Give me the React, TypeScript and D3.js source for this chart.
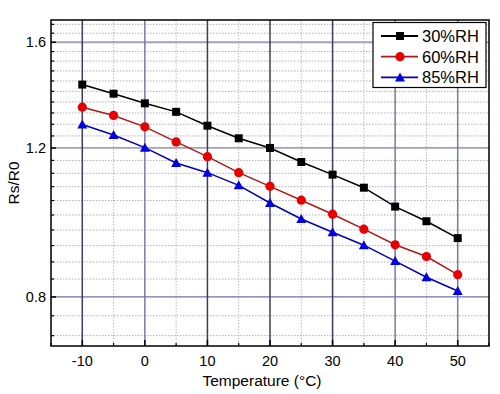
import React from "react";
import * as d3 from "d3";

const temperatures = [-10, -5, 0, 5, 10, 15, 20, 25, 30, 35, 40, 45, 50];
const rh30 = [1.426, 1.391, 1.355, 1.324, 1.275, 1.232, 1.2, 1.155, 1.116, 1.077, 1.023, 0.983, 0.939];
const rh60 = [1.341, 1.311, 1.271, 1.22, 1.172, 1.122, 1.081, 1.041, 1.002, 0.962, 0.922, 0.893, 0.85];
const rh85 = [1.279, 1.243, 1.201, 1.152, 1.122, 1.084, 1.033, 0.989, 0.954, 0.921, 0.882, 0.844, 0.813];
const seriesNames = ["30%RH", "60%RH", "85%RH"];
const xMajorTicks = [-10, 0, 10, 20, 30, 40, 50];
const xMinorTicks = [-15, -5, 5, 15, 25, 35, 45, 55];
const yMajorTicks = [0.8, 1.2, 1.6];
const yMinorTicks = [0.72, 0.76, 0.84, 0.88, 0.92, 0.96, 1.0, 1.04, 1.08, 1.12, 1.16, 1.24, 1.28, 1.32, 1.36, 1.4, 1.44, 1.48, 1.52, 1.56, 1.64, 1.68];

const W = 500, H = 394;
const L = 51, R = 489, T = 20, B = 346;
const FONT = "Arial, 'Liberation Sans', Helvetica, sans-serif";

export default function App() {
  const x = d3.scaleLinear().domain([-15, 55]).range([L, R]);
  const y = d3.scaleLog().domain([0.7, 1.7]).range([B, T]);
  const line = d3.line<[number, number]>().x(d => x(d[0])).y(d => y(d[1]));
  const series = [
    { name: seriesNames[0], vals: rh30, line: "#000000", fill: "#000000", marker: "square" },
    { name: seriesNames[1], vals: rh60, line: "#b01818", fill: "#e80000", marker: "circle" },
    { name: seriesNames[2], vals: rh85, line: "#0000b8", fill: "#0000e0", marker: "triangle" },
  ];
  const marker = (kind: string, cx: number, cy: number, fill: string, key?: any) => {
    if (kind === "square") return <rect key={key} x={cx - 4} y={cy - 4} width={8} height={8} fill={fill} />;
    if (kind === "circle") return <circle key={key} cx={cx} cy={cy} r={4.6} fill={fill} />;
    const s = 5;
    return <path key={key} d={`M${cx},${cy - s}L${cx + s},${cy + s * 0.8}L${cx - s},${cy + s * 0.8}Z`} fill={fill} />;
  };
  return (
    <svg width={W} height={H} style={{ position: "absolute", left: 0, top: 0, background: "#fff" }} fontFamily={FONT}>
      <rect x={0} y={0} width={W} height={H} fill="#fff" />
      {/* minor grid */}
      {yMinorTicks.map(v => (
        <line key={"ym" + v} x1={L} x2={R} y1={y(v)} y2={y(v)} stroke="#b0b0b8" strokeWidth={1} strokeDasharray="1.5,1.5" />
      ))}
      {xMinorTicks.map(v => (
        <line key={"xm" + v} x1={x(v)} x2={x(v)} y1={T} y2={B} stroke="#b8b8c8" strokeWidth={1} strokeDasharray="1.5,1.5" />
      ))}
      {/* major grid */}
      {yMajorTicks.map(v => (
        <line key={"yM" + v} x1={L} x2={R} y1={y(v)} y2={y(v)} stroke={v === 0.8 ? "#7070a8" : "#a0a0c0"} strokeWidth={v === 0.8 ? 1.2 : 1.8} />
      ))}
      {xMajorTicks.map(v => (
        <line key={"xM" + v} x1={x(v)} x2={x(v)} y1={T} y2={B} stroke={v === 0 || v >= 40 ? "#7878a8" : "#3c3c5a"} strokeWidth={1.5} />
      ))}
      {/* ticks */}
      {yMajorTicks.map(v => (
        <line key={"yt" + v} x1={L} x2={L + 5} y1={y(v)} y2={y(v)} stroke="#000" strokeWidth={1.5} />
      ))}
      {yMinorTicks.map(v => (
        <line key={"ytm" + v} x1={L} x2={L + 3} y1={y(v)} y2={y(v)} stroke="#000" strokeWidth={1.2} />
      ))}
      {xMajorTicks.map(v => (
        <line key={"xt" + v} x1={x(v)} x2={x(v)} y1={B} y2={B - 6} stroke="#000" strokeWidth={1.5} />
      ))}
      {xMinorTicks.map(v => (
        <line key={"xtm" + v} x1={x(v)} x2={x(v)} y1={B} y2={B - 3} stroke="#000" strokeWidth={1.2} />
      ))}
      {/* frame */}
      <rect x={L} y={T} width={R - L} height={B - T} fill="none" stroke="#000" strokeWidth={1.5} />
      {/* tick labels */}
      {yMajorTicks.map(v => (
        <text key={"yl" + v} x={L - 5} y={y(v)} dy="0.36em" textAnchor="end" fontSize={14.5} fill="#000">{v.toFixed(1)}</text>
      ))}
      {xMajorTicks.map(v => (
        <text key={"xl" + v} x={x(v)} y={366} textAnchor="middle" fontSize={14.5} fill="#000">{String(v)}</text>
      ))}
      {/* axis titles */}
      <text x={262} y={386} textAnchor="middle" fontSize={15.5} fill="#000">Temperature (°C)</text>
      <text transform={`translate(19,${(T + B) / 2}) rotate(-90)`} textAnchor="middle" fontSize={15.5} fill="#000">Rs/R0</text>
      {/* series */}
      {series.map(s => (
        <g key={s.name}>
          <path d={line(temperatures.map((t, i) => [t, s.vals[i]]) as [number, number][]) || ""} fill="none" stroke={s.line} strokeWidth={1.5} />
          {temperatures.map((t, i) => marker(s.marker, x(t), y(s.vals[i]), s.fill, i))}
        </g>
      ))}
      {/* legend */}
      <rect x={373} y={22.5} width={113} height={65} fill="#fff" stroke="#000" strokeWidth={1.2} />
      {series.map((s, i) => {
        const ly = 36 + i * 20.7;
        return (
          <g key={"lg" + s.name}>
            <line x1={381} x2={418} y1={ly} y2={ly} stroke={s.line} strokeWidth={1.8} />
            {marker(s.marker, 400, ly, s.fill)}
            <text x={422} y={ly} dy="0.36em" fontSize={16.5} fill="#000">{s.name}</text>
          </g>
        );
      })}
    </svg>
  );
}
